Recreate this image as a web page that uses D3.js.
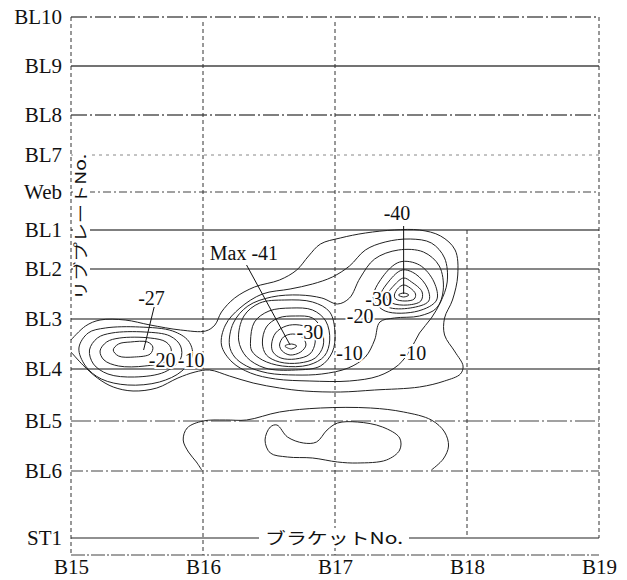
<!DOCTYPE html>
<html>
<head>
<meta charset="utf-8">
<script src="https://cdn.jsdelivr.net/npm/d3@7"></script>
<style>
  body { margin: 0; background: #fff; }
</style>
</head>
<body>
<div id="chart"></div>
<script>
// categories: rib-plate levels (height from ST1) and bracket numbers
var levelNames = ["BL10", "BL9", "BL8", "BL7", "Web", "BL1", "BL2", "BL3", "BL4", "BL5", "BL6", "ST1"];
var levelHeights = [521, 472, 423, 383, 346, 308, 269, 219, 169, 117, 67, 0];
var bracketNames = ["B15", "B16", "B17", "B18", "B19"];
var bracketPos = [15, 16, 17, 18, 19];

// contour lines, [bracket position, height]
var outer10 = [[15.00,198],[15.11,212],[15.22,218],[15.41,218],[15.60,213],[15.83,208],[16.02,207],[16.09,213],[16.14,226],[16.24,240],[16.39,251],[16.58,258],[16.71,268],[16.80,282],[16.89,294],[17.04,300],[17.23,305],[17.45,308],[17.64,308],[17.80,302],[17.91,288],[17.93,263],[17.89,238],[17.83,220],[17.83,203],[17.91,186],[17.97,172],[17.95,164],[17.83,157],[17.64,151],[17.30,148],[17.04,146],[16.77,147],[16.58,150],[16.38,155],[16.20,162],[16.05,168],[15.94,166],[15.81,160],[15.65,150],[15.47,147],[15.32,151],[15.20,160],[15.09,173],[15.00,186]];
var twin15 = [[16.14,193],[16.17,213],[16.28,230],[16.45,244],[16.66,249],[16.83,254],[16.98,261],[17.11,272],[17.23,288],[17.38,296],[17.57,299],[17.73,295],[17.83,280],[17.85,256],[17.80,236],[17.73,220],[17.64,205],[17.57,188],[17.48,173],[17.33,162],[17.11,157],[16.81,157],[16.55,159],[16.36,165],[16.22,176]];
var twin20 = [[16.20,193],[16.23,215],[16.34,232],[16.52,241],[16.73,243],[16.90,240],[17.02,234],[17.11,240],[17.19,260],[17.30,279],[17.48,288],[17.67,286],[17.79,272],[17.82,248],[17.77,230],[17.64,222],[17.45,220],[17.34,216],[17.30,198],[17.23,181],[17.10,170],[16.90,164],[16.70,163],[16.49,165],[16.33,172],[16.24,181]];
var mid25 = [[16.27,198],[16.31,222],[16.43,235],[16.62,238],[16.83,236],[16.96,226],[17.00,205],[16.98,186],[16.89,172],[16.70,168],[16.47,170],[16.33,181]];
var mid30 = [[16.36,197],[16.39,216],[16.50,227],[16.67,230],[16.83,228],[16.93,217],[16.96,198],[16.92,182],[16.80,173],[16.60,172],[16.45,178],[16.37,187]];
var mid33 = [[16.45,195],[16.48,211],[16.57,220],[16.70,222],[16.83,220],[16.90,208],[16.91,192],[16.85,180],[16.73,175],[16.58,176],[16.48,183]];
var mid36 = [[16.52,194],[16.55,205],[16.63,212],[16.73,213],[16.83,208],[16.85,196],[16.81,184],[16.70,179],[16.59,180],[16.53,186]];
var mid39 = [[16.58,193],[16.61,201],[16.68,204],[16.75,201],[16.78,193],[16.74,186],[16.66,183],[16.60,187]];
var mid41 = [[16.62,192],[16.67,194],[16.71,192],[16.67,189]];
var right25 = [[17.29,240],[17.36,261],[17.49,276],[17.64,273],[17.75,256],[17.77,238],[17.63,227],[17.38,227]];
var right30 = [[17.34,240],[17.41,257],[17.51,268],[17.61,264],[17.70,250],[17.71,237],[17.57,230],[17.40,231]];
var right35 = [[17.39,241],[17.45,253],[17.52,260],[17.58,256],[17.66,246],[17.65,237],[17.55,233],[17.43,235]];
var right38 = [[17.45,243],[17.48,250],[17.52,253],[17.57,250],[17.61,244],[17.60,239],[17.53,237],[17.46,239]];
var right40 = [[17.48,243],[17.52,245],[17.56,243],[17.52,241]];
var left15 = [[15.06,190],[15.13,205],[15.26,210],[15.52,211],[15.77,207],[15.89,197],[15.92,183],[15.84,167],[15.67,156],[15.43,153],[15.23,159],[15.11,172]];
var left20 = [[15.14,188],[15.20,200],[15.31,205],[15.56,206],[15.75,202],[15.83,192],[15.83,179],[15.71,166],[15.48,161],[15.28,164],[15.17,174]];
var left25 = [[15.22,187],[15.27,196],[15.37,200],[15.60,200],[15.72,196],[15.76,188],[15.72,177],[15.56,172],[15.36,172],[15.25,178]];
var left27 = [[15.32,188],[15.36,194],[15.45,196],[15.58,196],[15.62,191],[15.60,184],[15.48,181],[15.36,182]];
var lowOuter = [[15.99,68],[15.95,76],[15.89,86],[15.85,98],[15.88,110],[16.00,117],[16.17,118],[16.33,118],[16.58,126],[16.89,130],[17.27,130],[17.52,126],[17.73,118],[17.83,106],[17.86,92],[17.82,79],[17.73,68]];
var lowInner = [[16.51,111],[16.56,113],[16.64,101],[16.76,95],[16.86,96],[16.94,108],[17.02,115],[17.17,116],[17.36,111],[17.49,100],[17.49,88],[17.39,78],[17.17,75],[17.02,76],[16.83,80],[16.64,81],[16.51,85],[16.47,98]];

var closedLines = [twin15, twin20, mid25, mid30, mid33, mid36, mid39, mid41,
  right25, right30, right35, right38, right40, left15, left20, left25, left27, lowInner];
var openLines = [outer10, lowOuter];

// contour value labels: text, bracket, height (baseline)
var labelTexts = ["-27", "-20", "-10", "Max -41", "-30", "-40", "-30", "-20", "-10", "-10"];
var labelX = [15.61, 15.69, 15.91, 16.31, 16.81, 17.47, 17.33, 17.19, 17.11, 17.59];
var labelY = [233, 171, 171, 278, 199, 318, 232, 215, 178, 178];
// leader lines from label to peak
var leaders = [
  [[15.63,231],[15.55,188]],
  [[16.33,273],[16.66,193]],
  [[17.52,312],[17.52,244]]
];

var width = 627, height = 580;
var svg = d3.select("#chart").append("svg")
    .attr("width", width)
    .attr("height", height);

var x = d3.scaleLinear().domain([15, 19]).range([71, 599]);
var y = d3.scaleLinear().domain([-17, 521]).range([555, 17]);

var serif = "'Liberation Serif', 'Times New Roman', serif";

// horizontal rib-plate lines
var hStyle = {
  "BL10": {c: "#555", d: "16,3,2,3", w: 1.3},
  "BL9":  {c: "#444", d: null, w: 1.3},
  "BL8":  {c: "#555", d: "16,3,2,3", w: 1.3},
  "BL7":  {c: "#888", d: "3,4", w: 1},
  "Web":  {c: "#444", d: "8,3,2,3", w: 1.1},
  "BL1":  {c: "#555", d: null, w: 1.4},
  "BL2":  {c: "#111", d: null, w: 1.2},
  "BL3":  {c: "#111", d: null, w: 1.2},
  "BL4":  {c: "#111", d: null, w: 1.2},
  "BL5":  {c: "#444", d: "20,3,2,3", w: 1.2},
  "BL6":  {c: "#444", d: "12,3,2,3", w: 1.2},
  "ST1":  {c: "#222", d: null, w: 1.1}
};
levelNames.forEach(function(n, i) {
  var s = hStyle[n];
  svg.append("line")
    .attr("x1", x(15)).attr("x2", x(19))
    .attr("y1", y(levelHeights[i])).attr("y2", y(levelHeights[i]))
    .attr("stroke", s.c)
    .attr("stroke-width", s.w)
    .attr("stroke-dasharray", s.d);
});

// vertical bracket lines
var vTop = [521, 516, 516, 308, 521];
var vBottom = [-17, -17, -17, 0, 0];
bracketPos.forEach(function(b, i) {
  svg.append("line")
    .attr("x1", x(b)).attr("x2", x(b))
    .attr("y1", y(vTop[i])).attr("y2", y(vBottom[i]))
    .attr("stroke", "#333")
    .attr("stroke-width", 1)
    .attr("stroke-dasharray", "4,3");
});

// bottom frame line
svg.append("line")
  .attr("x1", x(15)).attr("x2", x(19))
  .attr("y1", y(-17)).attr("y2", y(-17))
  .attr("stroke", "#444")
  .attr("stroke-width", 1.2)
  .attr("stroke-dasharray", "14,2,2,2");

// contours
var closedLine = d3.line()
  .x(function(d) { return x(d[0]); })
  .y(function(d) { return y(d[1]); })
  .curve(d3.curveCatmullRomClosed.alpha(0.5));
var openLine = d3.line()
  .x(function(d) { return x(d[0]); })
  .y(function(d) { return y(d[1]); })
  .curve(d3.curveCatmullRom.alpha(0.5));

svg.append("g").selectAll("path")
  .data(closedLines)
  .enter().append("path")
    .attr("d", closedLine)
    .attr("fill", "none")
    .attr("stroke", "#222")
    .attr("stroke-width", 1);
svg.append("g").selectAll("path")
  .data(openLines)
  .enter().append("path")
    .attr("d", openLine)
    .attr("fill", "none")
    .attr("stroke", "#222")
    .attr("stroke-width", 1);

// leaders
svg.append("g").selectAll("path")
  .data(leaders)
  .enter().append("path")
    .attr("d", d3.line().x(function(d) { return x(d[0]); }).y(function(d) { return y(d[1]); }))
    .attr("stroke", "#111")
    .attr("stroke-width", 1);

// contour labels with white halo
svg.append("g").selectAll("text")
  .data(labelTexts)
  .enter().append("text")
    .attr("x", function(d, i) { return x(labelX[i]); })
    .attr("y", function(d, i) { return y(labelY[i]); })
    .attr("text-anchor", "middle")
    .style("font-family", serif)
    .style("font-size", "20px")
    .attr("fill", "#111")
    .attr("stroke", "#fff")
    .attr("stroke-width", 4)
    .attr("paint-order", "stroke")
    .text(function(d) { return d; });

// axes
var xAxis = svg.append("g")
  .attr("transform", "translate(0," + y(-17) + ")")
  .call(d3.axisBottom(x).tickValues(bracketPos)
    .tickFormat(function(d, i) { return bracketNames[i]; })
    .tickSize(0).tickPadding(4));
xAxis.select(".domain").remove();
xAxis.selectAll("text")
  .style("font-family", serif)
  .style("font-size", "21px")
  .attr("fill", "#111");

var yAxis = svg.append("g")
  .attr("transform", "translate(" + x(15) + ",0)")
  .call(d3.axisLeft(y).tickValues(levelHeights)
    .tickFormat(function(d, i) { return levelNames[i]; })
    .tickSize(0).tickPadding(9));
yAxis.select(".domain").remove();
yAxis.selectAll("text")
  .style("font-family", serif)
  .style("font-size", "21px")
  .attr("fill", "#111");

// axis titles (Japanese)
var jp = "'Noto Sans CJK JP', sans-serif";
svg.append("rect")
  .attr("x", x(15) + 2).attr("y", 152)
  .attr("width", 17).attr("height", 150)
  .attr("fill", "#fff");
svg.append("text")
  .attr("transform", "translate(" + (x(15) + 15) + ",227) rotate(-90)")
  .attr("text-anchor", "middle")
  .attr("textLength", 146)
  .attr("lengthAdjust", "spacingAndGlyphs")
  .style("font-family", jp)
  .style("font-size", "15px")
  .attr("fill", "#111")
  .text("リブプレートNo.");

svg.append("rect")
  .attr("x", 259).attr("y", 528)
  .attr("width", 150).attr("height", 20)
  .attr("fill", "#fff");
svg.append("text")
  .attr("x", 334).attr("y", y(0) + 6)
  .attr("text-anchor", "middle")
  .attr("textLength", 138)
  .attr("lengthAdjust", "spacingAndGlyphs")
  .style("font-family", jp)
  .style("font-size", "16px")
  .attr("fill", "#111")
  .text("ブラケットNo.")
</script>
</body>
</html>
